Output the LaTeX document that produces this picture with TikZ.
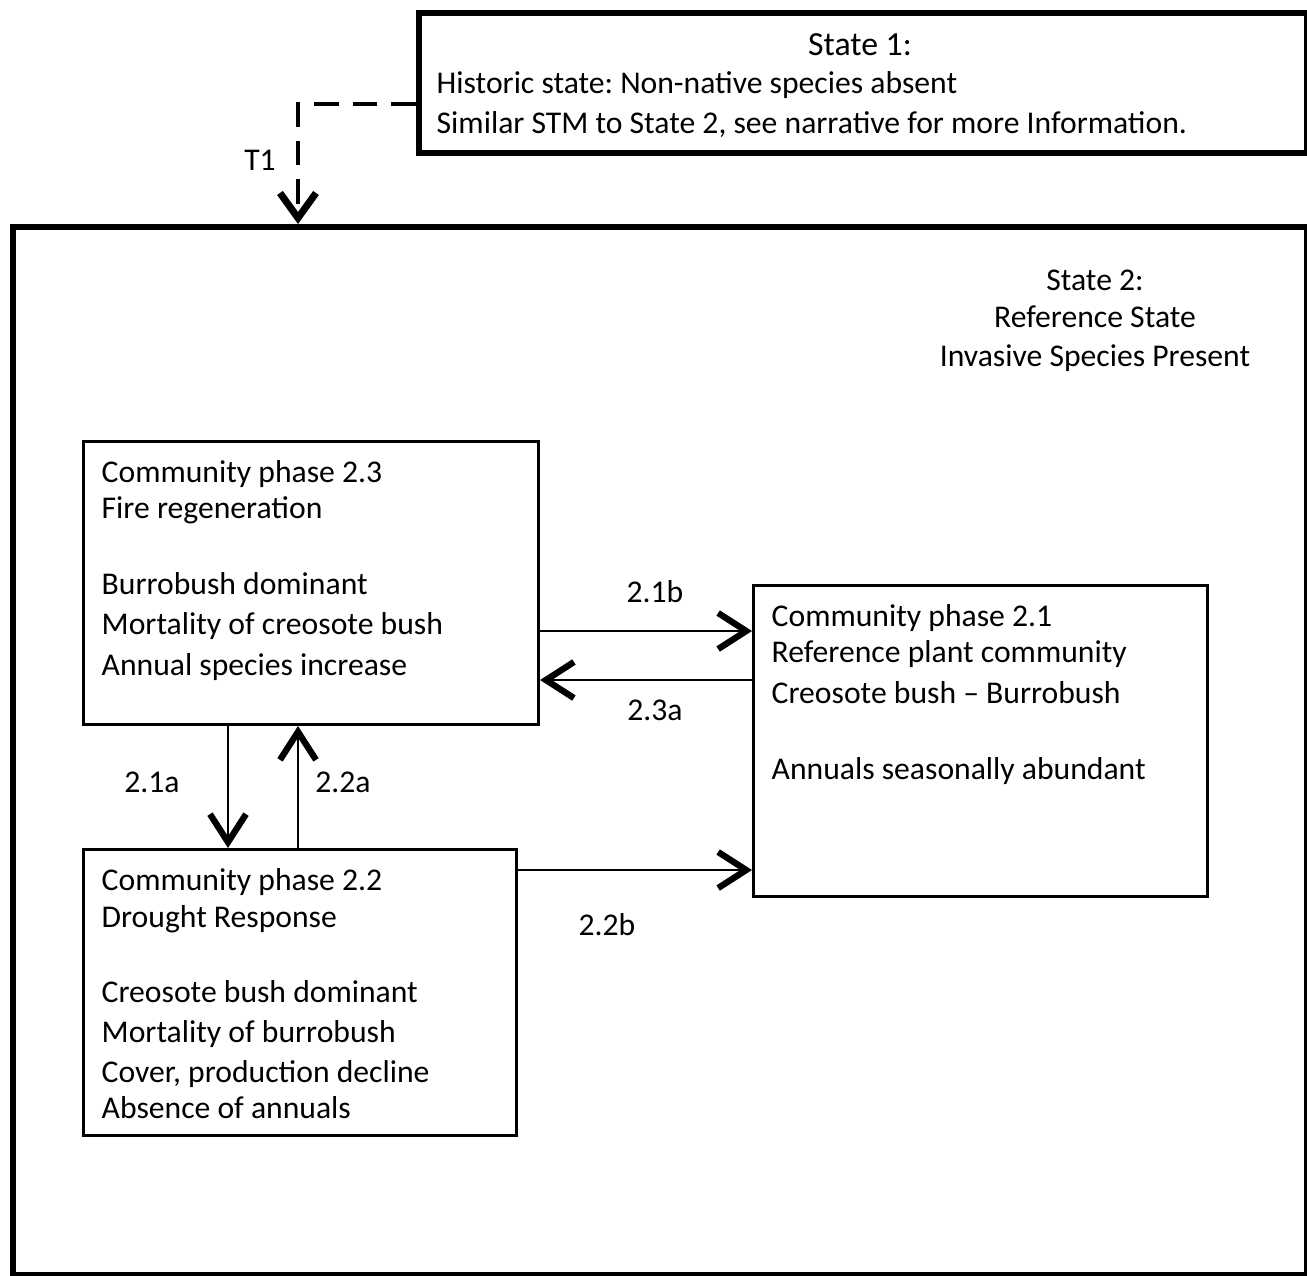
\documentclass[tikz,border=0pt]{standalone}
\usepackage{fontspec}
\setmainfont{Carlito}
\frenchspacing
\usetikzlibrary{arrows.meta,positioning}

\tikzset{
  statebox/.style={draw,line width=1.8pt,anchor=north west,inner sep=0pt},
  phasebox/.style={draw,line width=0.8pt,anchor=north west,inner sep=0pt},
  phasetxt/.style={anchor=north west,align=left,inner sep=0pt,font=\fontsize{9}{10.3}\selectfont},
  lbl/.style={inner sep=0pt,font=\fontsize{9}{10.3}\selectfont},
  trans/.style={line width=0.8pt,-{Straight Barb[length=2.8mm,width=3.6mm,line width=1.8pt]}},
}

\begin{document}
\begin{tikzpicture}[x=0.01cm,y=-0.01cm]
        \useasboundingbox (0,0) rectangle (1307,1275);
        % state boxes
        \node[statebox,minimum width=8.87cm,minimum height=1.40cm] (s1) at (416,10) {};
        \node[statebox,minimum width=12.93cm,minimum height=10.47cm] (s2) at (10,224) {};
        \node[lbl,font=\fontsize{9.6}{12}\selectfont] (s1t) at (860,45) {State 1:};
        \node[phasetxt,align=left] (s1x) at (436,71) {Historic state: Non-native species absent\\[1.1pt]
          Similar STM to State 2, see narrative for more Information.};
        \node[lbl,align=center] (s2t) at (1095,321) {State 2:\\[0.3pt] Reference State\\[0.8pt] Invasive Species Present};
        % phase boxes
        \node[phasebox,minimum width=4.55cm,minimum height=2.83cm] (p23) at (82,440) {};
        \node[phasebox,minimum width=4.54cm,minimum height=3.11cm] (p21) at (752,584) {};
        \node[phasebox,minimum width=4.33cm,minimum height=2.86cm] (p22) at (82,848) {};
        \node[phasetxt] at ([xshift=0.19cm,yshift=-0.2cm]p23.north west) {Community phase 2.3\\
          Fire regeneration\\[0.39cm]
          Burrobush dominant\\[1.3pt]
          Mortality of creosote bush\\[1.1pt]
          Annual species increase};
        \node[phasetxt] at ([xshift=0.19cm,yshift=-0.2cm]p21.north west) {Community phase 2.1\\
          Reference plant community\\[1.1pt]
          Creosote bush -- Burrobush\\[0.40cm]
          Annuals seasonally abundant};
        \node[phasetxt] at ([xshift=0.19cm,yshift=-0.2cm]p22.north west) {Community phase 2.2\\[0.2pt]
          Drought Response\\[0.39cm]
          Creosote bush dominant\\[1.1pt]
          Mortality of burrobush\\[0.8pt]
          Cover, production decline\\
          Absence of annuals};
        % transitions
        \draw[line width=0.9pt,dash pattern=on 7pt off 4pt,-{Straight Barb[length=2.5mm,width=3.6mm,line width=2pt]}]
          (s1.west |- 0,104) -| (s2.north -| 298,0);
        \node[lbl] (t1) at (260,160) {T1};
        \draw[trans] (p23.east |- 0,631) -- (p21.west |- 0,631);
        \draw[trans] (p21.west |- 0,680) -- (p23.east |- 0,680);
        \draw[trans] (p23.south -| 228,0) -- (p22.north -| 228,0);
        \draw[trans] (p22.north -| 298,0) -- (p23.south -| 298,0);
        \draw[trans] (p22.east |- 0,870) -- (p21.west |- 0,870);
        \draw(655,592)node[lbl]{2.1b};
        \draw(655,710)node[lbl]{2.3a};
        \draw(152,782)node[lbl]{2.1a};
        \draw(343,782)node[lbl]{2.2a};
        \draw(607,925)node[lbl]{2.2b};
      \end{tikzpicture}
\end{document}
